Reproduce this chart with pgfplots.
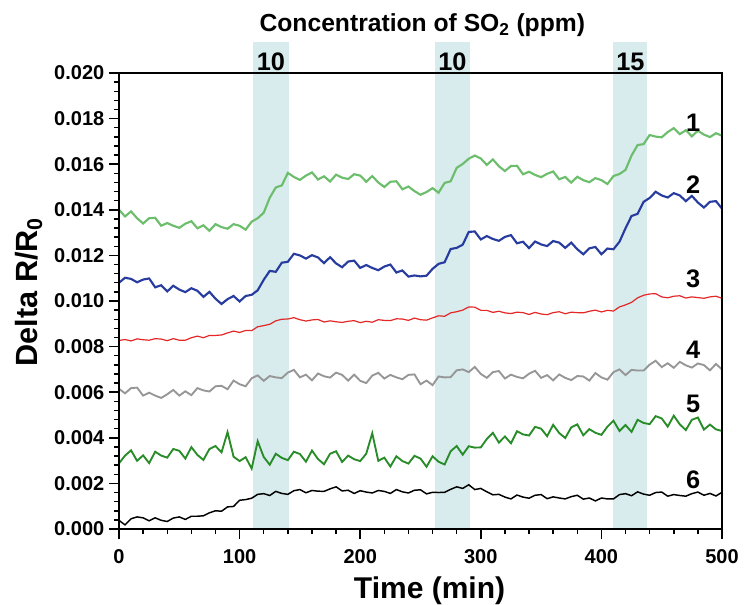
\documentclass[border=0pt]{standalone}
\usepackage{fontspec}
\setmainfont{Liberation Sans}
\usepackage{pgfplots}
\usepackage{pgfplotstable}
\pgfplotsset{compat=1.18}
\definecolor{cA}{RGB}{108,190,108}
\definecolor{cB}{RGB}{40,60,160}
\definecolor{cC}{RGB}{228,40,40}
\definecolor{cD}{RGB}{150,150,150}
\definecolor{cE}{RGB}{40,140,40}
\definecolor{band}{RGB}{216,235,237}
\pgfplotstableread{
x s1 s2 s3 s4 s5 s6
0 14.00 10.80 8.27 6.15 2.88 0.38
5 13.71 11.02 8.31 5.95 3.22 0.18
10 13.93 10.97 8.25 6.18 3.45 0.45
15 13.63 10.82 8.34 6.20 2.99 0.53
20 13.40 10.94 8.30 5.85 3.23 0.49
25 13.63 10.99 8.28 5.98 2.89 0.36
30 13.65 10.60 8.35 5.85 3.39 0.49
35 13.30 10.69 8.33 5.75 3.22 0.38
40 13.42 10.42 8.26 5.91 3.13 0.33
45 13.30 10.67 8.35 6.10 3.51 0.48
50 13.21 10.50 8.28 5.85 3.43 0.53
55 13.39 10.39 8.28 6.04 3.09 0.42
60 13.50 10.56 8.39 5.87 3.59 0.56
65 13.19 10.45 8.46 6.18 3.25 0.56
70 13.32 10.18 8.39 6.08 3.03 0.58
75 13.08 10.40 8.49 6.03 3.51 0.71
80 13.37 10.10 8.49 6.26 3.64 0.80
85 13.24 9.87 8.51 6.28 3.36 0.78
90 13.17 10.08 8.60 6.13 4.25 0.97
95 13.37 10.22 8.68 6.51 3.17 0.99
100 13.30 9.98 8.62 6.35 2.98 1.26
105 13.13 10.22 8.71 6.26 3.15 1.29
110 13.48 10.27 8.70 6.61 2.65 1.35
115 13.63 10.47 8.87 6.74 3.85 1.52
120 13.87 10.93 8.92 6.50 3.16 1.55
125 14.53 11.32 8.98 6.71 2.82 1.47
130 14.98 11.28 9.13 6.65 3.30 1.65
135 15.07 11.68 9.20 6.62 3.12 1.56
140 15.62 11.72 9.21 6.86 3.02 1.52
145 15.44 12.07 9.27 6.98 3.39 1.68
150 15.31 12.00 9.18 6.65 3.29 1.73
155 15.50 11.86 9.12 6.77 2.95 1.59
160 15.64 12.01 9.17 6.52 3.44 1.69
165 15.33 11.91 9.19 6.82 3.07 1.66
170 15.47 11.66 9.08 6.70 2.84 1.65
175 15.24 11.92 9.13 6.64 3.30 1.76
180 15.54 11.65 9.09 6.86 3.41 1.85
185 15.41 11.48 9.06 6.76 2.94 1.67
190 15.35 11.73 9.11 6.51 3.22 1.70
195 15.56 11.77 9.14 6.77 3.06 1.56
200 15.50 11.45 9.05 6.50 2.98 1.68
205 15.23 11.58 9.11 6.40 3.30 1.62
210 15.48 11.45 9.07 6.73 4.20 1.58
215 15.20 11.35 9.18 6.85 2.99 1.69
220 15.00 11.51 9.15 6.60 3.13 1.65
225 15.23 11.60 9.14 6.76 2.74 1.56
230 15.25 11.25 9.22 6.65 3.19 1.73
235 14.90 11.34 9.21 6.57 2.98 1.63
240 15.02 11.07 9.15 6.76 2.87 1.58
245 14.82 11.12 9.25 6.78 3.21 1.70
250 14.66 11.08 9.18 6.35 3.09 1.72
255 14.78 11.11 9.16 6.51 2.73 1.54
260 14.95 11.41 9.26 6.31 3.19 1.61
265 14.75 11.63 9.35 6.69 2.95 1.60
270 15.18 11.70 9.33 6.65 2.83 1.61
275 15.25 12.28 9.48 6.66 3.41 1.74
280 15.84 12.33 9.53 6.96 3.64 1.85
285 16.01 12.47 9.60 7.00 3.26 1.78
290 16.24 13.03 9.74 6.88 3.63 1.94
295 16.38 13.05 9.73 7.11 3.57 1.73
300 16.25 12.70 9.59 6.80 3.58 1.78
305 15.97 12.85 9.59 6.63 3.95 1.63
310 16.21 12.72 9.50 6.88 4.22 1.50
315 15.91 12.64 9.55 6.93 3.79 1.52
320 15.70 12.81 9.48 6.60 4.06 1.40
325 15.92 12.89 9.45 6.77 3.76 1.32
330 15.93 12.53 9.51 6.67 4.29 1.49
335 15.56 12.60 9.49 6.61 4.15 1.40
340 15.67 12.32 9.41 6.81 4.10 1.35
345 15.53 12.61 9.50 6.94 4.48 1.48
350 15.43 12.48 9.43 6.63 4.40 1.51
355 15.58 12.41 9.40 6.75 4.07 1.33
360 15.68 12.63 9.49 6.52 4.57 1.41
365 15.34 12.56 9.53 6.78 4.21 1.36
370 15.44 12.33 9.44 6.63 3.99 1.32
375 15.19 12.56 9.51 6.53 4.46 1.42
380 15.45 12.27 9.49 6.71 4.59 1.48
385 15.30 12.05 9.48 6.69 4.11 1.31
390 15.21 12.31 9.55 6.51 4.38 1.36
395 15.39 12.37 9.60 6.84 4.22 1.23
400 15.30 12.05 9.52 6.65 4.13 1.36
405 15.13 12.30 9.59 6.55 4.49 1.32
410 15.48 12.27 9.56 6.88 4.75 1.32
415 15.57 12.60 9.74 7.00 4.30 1.51
420 15.75 13.19 9.83 6.75 4.56 1.55
425 16.38 13.73 9.94 6.98 4.26 1.46
430 16.84 13.82 10.14 6.95 4.79 1.63
435 16.88 14.35 10.25 6.95 4.65 1.53
440 17.28 14.52 10.31 7.21 4.60 1.48
445 17.21 14.79 10.32 7.38 4.95 1.60
450 17.18 14.63 10.18 7.10 4.85 1.62
455 17.41 14.54 10.14 7.27 4.49 1.44
460 17.58 14.73 10.21 7.07 4.97 1.51
465 17.32 14.63 10.23 7.33 4.59 1.47
470 17.49 14.38 10.13 7.18 4.34 1.44
475 17.22 14.61 10.18 7.08 4.79 1.55
480 17.47 14.32 10.15 7.26 4.89 1.62
485 17.30 14.10 10.12 7.19 4.36 1.48
490 17.19 14.35 10.18 6.96 4.58 1.56
495 17.36 14.38 10.21 7.24 4.37 1.45
500 17.25 14.05 10.12 7.00 4.30 1.61
}\datatable
\begin{document}
\begin{tikzpicture}
\begin{axis}[name=ax,
  scale only axis, width=452.25pt, height=342pt,
  xmin=0, xmax=500, ymin=0, ymax=20,
  xtick={0,100,200,300,400,500}, xticklabels={0,100,200,300,400,500},
  ytick={0,2,4,6,8,10,12,14,16,18,20},
  yticklabels={0.000,0.002,0.004,0.006,0.008,0.010,0.012,0.014,0.016,0.018,0.020},
  minor x tick num=4, minor y tick num=4,
  tick pos=left, tick align=outside,
  major tick length=7.5pt, minor tick length=4pt,
  every tick/.append style={black, line width=1.1pt},
  axis line style={line width=2pt},
  axis on top, clip=false,
  /pgf/number format/assume math mode=true,
  tick label style={font=\fontsize{15}{18}\selectfont\bfseries},
  xticklabel style={yshift=-4.5pt},
  xlabel={Time (min)}, ylabel={Delta R/R\textsubscript{0}},
  xlabel style={font=\fontsize{22.5}{26}\selectfont\bfseries, at={(axis description cs:0.515,-0.135)}, anchor=center},
  ylabel style={font=\fontsize{23}{26}\selectfont\bfseries, at={(axis description cs:-0.15,0.52)}, anchor=center},
  title={Concentration of SO\textsubscript{2} (ppm)},
  title style={font=\fontsize{18.5}{22}\selectfont\bfseries, at={(axis description cs:0.503,1.088)}, anchor=center},
]
\fill[band] (axis cs:111,0) rectangle (axis cs:141,21.36);
\fill[band] (axis cs:262,0) rectangle (axis cs:291,21.36);
\fill[band] (axis cs:410,0) rectangle (axis cs:438,21.36);
\addplot[color=cA, line width=1.6pt] table[x=x,y=s1]{\datatable};
\addplot[color=cB, line width=1.6pt] table[x=x,y=s2]{\datatable};
\addplot[color=cC, line width=0.9pt] table[x=x,y=s3]{\datatable};
\addplot[color=cD, line width=1.4pt] table[x=x,y=s4]{\datatable};
\addplot[color=cE, line width=1.4pt] table[x=x,y=s5]{\datatable};
\addplot[color=black, line width=1.1pt] table[x=x,y=s6]{\datatable};
\begin{scope}[every node/.style={font=\fontsize{19}{22}\selectfont\bfseries}]
\node at (axis cs:126,20.48) {10};
\node at (axis cs:276.5,20.48) {10};
\node at (axis cs:424,20.48) {15};
\node at (axis cs:476,17.8) {1};
\node at (axis cs:476,15.1) {2};
\node at (axis cs:476,10.96) {3};
\node at (axis cs:476,7.85) {4};
\node at (axis cs:476,5.48) {5};
\node at (axis cs:476,2.15) {6};
\end{scope}
\end{axis}
\pgfresetboundingbox
\path[use as bounding box] (ax.south west) ++(-89.25pt,-56.25pt) rectangle ++(561pt,453pt);
\end{tikzpicture}
\end{document}
